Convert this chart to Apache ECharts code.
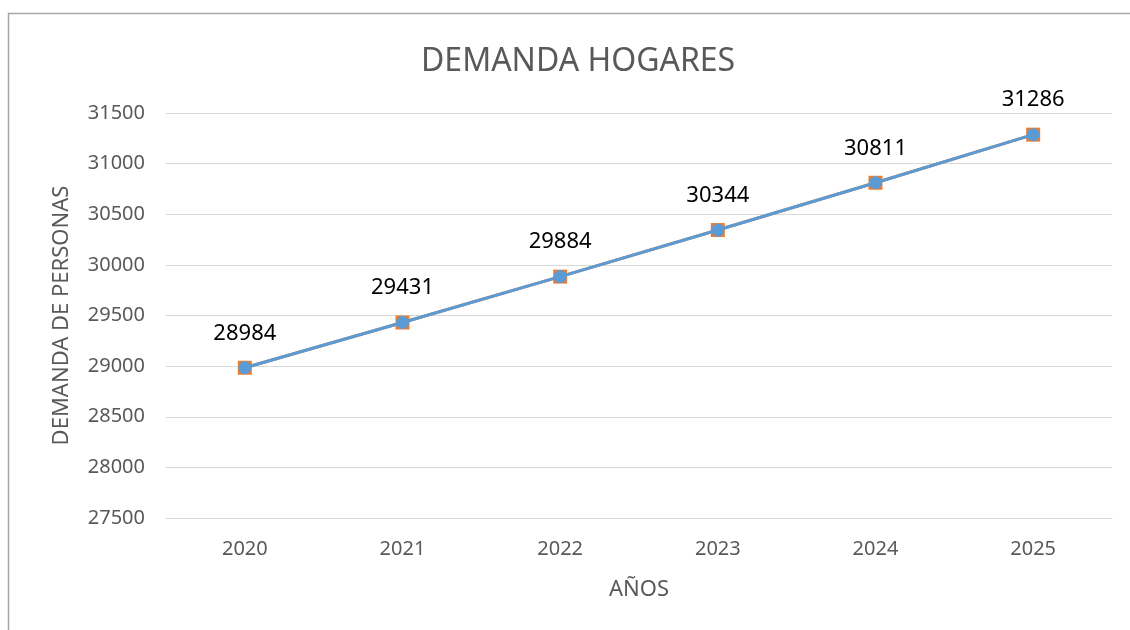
<!DOCTYPE html>
<html lang="es">
<head>
<meta charset="UTF-8">
<title>DEMANDA HOGARES</title>
<script src="https://cdn.jsdelivr.net/npm/echarts@6/dist/echarts.min.js"></script>
</head>
<body style="margin:0">
<div id="main" style="width:1130px;height:630px;"></div>
<script>
var years = ['2020', '2021', '2022', '2023', '2024', '2025'];
var demanda = [28984, 29431, 29884, 30344, 30811, 31286];

var myChart = echarts.init(document.getElementById('main'));
var font = '"Noto Sans", "Open Sans", sans-serif';

var option = {
    backgroundColor: '#fff',
    textStyle: { fontFamily: font },
    title: {
        text: 'DEMANDA HOGARES',
        left: 416,
        top: 41,
        textStyle: { fontSize: 32, fontWeight: 'normal', color: '#595959', fontFamily: font }
    },
    graphic: [{
        type: 'rect',
        shape: { x: 8.5, y: 13.5, width: 1200, height: 700 },
        style: { fill: 'none', stroke: '#a6a6a6', lineWidth: 1.5 },
        silent: true
    }],
    grid: { left: 166, right: 18, top: 113, bottom: 112 },
    xAxis: {
        type: 'category',
        data: years,
        name: 'AÑOS',
        nameLocation: 'middle',
        nameGap: 61,
        nameTextStyle: { fontSize: 22, color: '#595959' },
        axisLine: { lineStyle: { color: '#d9d9d9' } },
        axisTick: { show: false },
        axisLabel: { fontSize: 20, color: '#595959', margin: 21 }
    },
    yAxis: {
        type: 'value',
        min: 27500,
        max: 31500,
        interval: 500,
        name: 'DEMANDA DE PERSONAS',
        nameLocation: 'middle',
        nameGap: 93,
        nameTextStyle: { fontSize: 22, color: '#595959' },
        axisLine: { show: false },
        axisTick: { show: false },
        axisLabel: {
            fontSize: 20,
            color: '#595959',
            margin: 21,
            formatter: function (v) { return String(v); }
        },
        splitLine: { lineStyle: { color: '#d9d9d9', width: 1 } }
    },
    series: [{
        name: 'Demanda',
        type: 'line',
        data: demanda,
        symbol: 'rect',
        symbolSize: 14,
        itemStyle: { color: '#ed7d31' },
        lineStyle: { color: '#ed7d31', width: 3 },
        z: 2
    }, {
        name: 'Demanda ',
        type: 'line',
        data: demanda,
        symbol: 'circle',
        symbolSize: 13,
        itemStyle: { color: '#5b9bd5' },
        lineStyle: { color: '#5b9bd5', width: 3 },
        label: {
            show: true,
            position: 'top',
            distance: 17,
            fontSize: 22,
            color: '#000'
        },
        z: 3
    }],
    animation: false
};

myChart.setOption(option);
</script>
</body>
</html>
